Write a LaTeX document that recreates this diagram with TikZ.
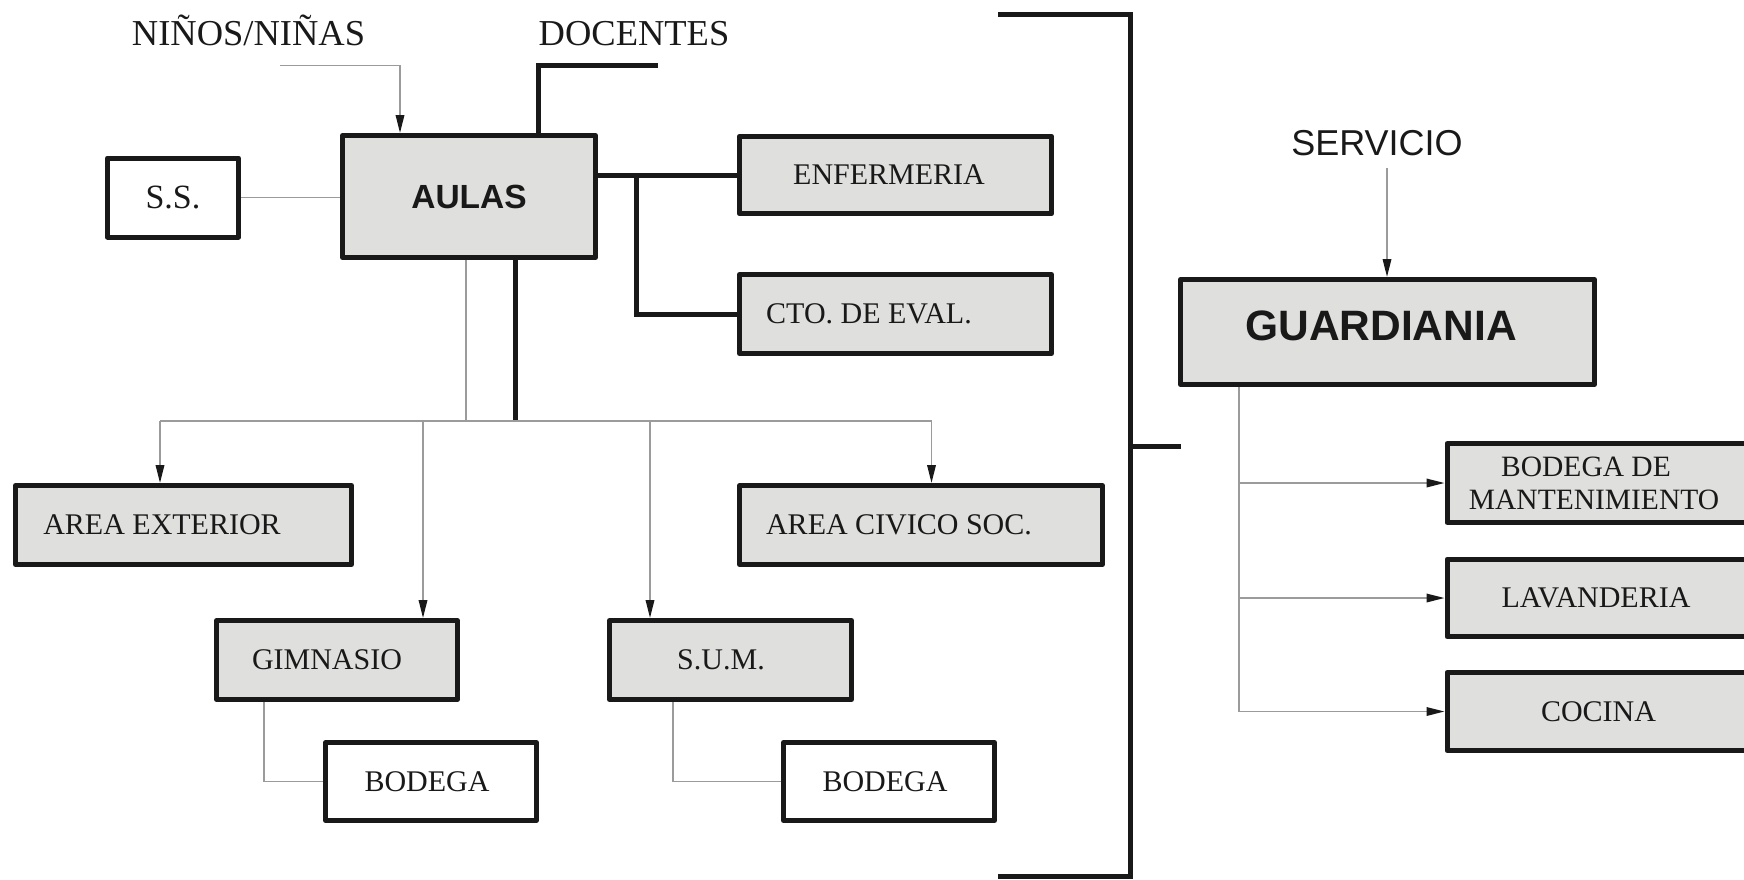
\documentclass[tikz,border=0pt]{standalone}
\usepackage{fontspec}
\setmainfont{Liberation Serif}
\setsansfont{Liberation Sans}
\usetikzlibrary{arrows.meta}
\definecolor{boxgray}{RGB}{223,223,221}
\definecolor{linegray}{RGB}{155,155,155}
\definecolor{ink}{RGB}{25,25,25}
\begin{document}
\begin{tikzpicture}[x=1pt,y=-1pt,
  box/.style={draw=ink, line width=5pt, line join=round, fill=boxgray, inner sep=0pt,
    text=ink, font=\fontsize{30}{33}\selectfont, align=center},
  wbox/.style={box, fill=white},
  lbl/.style={text=ink, inner sep=0pt, anchor=base},
  heavy/.style={draw=ink, line width=5pt},
  fine/.style={draw=linegray, line width=1.8pt},
  finearrow/.style={fine, -{Triangle[length=18pt,width=8.5pt,color=ink]}}]
\useasboundingbox (0,0) rectangle (1744,879);
\clip (0,0) rectangle (1744,879);

% boxes
\node[box, minimum width=253pt, minimum height=122pt,
  font=\sffamily\bfseries\fontsize{33.5}{36}\selectfont] (aulas) at (469,196.5) {AULAS};
\node[wbox, minimum width=131pt, minimum height=79pt,
  font=\fontsize{34}{36}\selectfont] (ss) at (173,197.5) {S.S.};
\node[box, minimum width=312pt, minimum height=77.5pt] (enf) at (895.5,175) {ENFERMERIA\hspace*{13pt}};
\node[box, minimum width=312pt, minimum height=79pt] (cto) at (895.5,314) {CTO. DE EVAL.\hspace*{53pt}};
\node[box, minimum width=336pt, minimum height=79pt] (ext) at (183.5,525) {AREA EXTERIOR\hspace*{43pt}};
\node[box, minimum width=362.5pt, minimum height=79pt] (civ) at (921,525) {AREA CIVICO SOC.\hspace*{44pt}};
\node[box, minimum width=240.5pt, minimum height=79pt] (gim) at (337,660) {GIMNASIO\hspace*{20pt}};
\node[box, minimum width=242pt, minimum height=79pt] (sum) at (730.5,660) {S.U.M.\hspace*{19pt}};
\node[wbox, minimum width=210.5pt, minimum height=78pt] (bod1) at (431,781.5) {BODEGA\hspace*{8pt}};
\node[wbox, minimum width=211pt, minimum height=78pt] (bod2) at (889,781.5) {BODEGA\hspace*{8pt}};
\node[box, minimum width=414pt, minimum height=105pt,
  font=\sffamily\bfseries\fontsize{42.5}{45}\selectfont] (guard) at (1387.5,332)
  {\raisebox{12pt}{GUARDIANIA}\hspace*{13pt}};
\node[box, minimum width=303pt, minimum height=78.5pt,
  font=\fontsize{29.5}{33}\selectfont] (mant) at (1598.5,483)
  {BODEGA DE\hspace*{25pt}\\MANTENIMIENTO\hspace*{9pt}};
\node[box, minimum width=303pt, minimum height=77.5pt] (lav) at (1598.5,598) {LAVANDERIA\hspace*{5pt}};
\node[box, minimum width=303pt, minimum height=78pt] (coc) at (1598.5,711.5) {COCINA};

% free labels
\node[lbl, font=\fontsize{36.5}{40}\selectfont] (ninos) at (248.5,45) {NIÑOS/NIÑAS};
\node[lbl, font=\fontsize{36.5}{40}\selectfont] (docentes) at (634,45) {DOCENTES};
\node[lbl, font=\sffamily\fontsize{36}{40}\selectfont] (servicio) at (1377,155) {SERVICIO};

% coordinates
\coordinate (ninA) at (280,65.5);
\coordinate (ninB) at (400,65.5);
\coordinate (docA) at (658,65.5);
\coordinate (docB) at (538,65.5);
\coordinate (brk) at (636,175);
\coordinate (hub) at (515.5,420.7);
\coordinate (thinx) at (466,420.7);
\coordinate (hL) at (160,420.7);
\coordinate (hG) at (423,420.7);
\coordinate (hS) at (650,420.7);
\coordinate (hR) at (931.5,420.7);
\coordinate (gb) at (264,780.7);
\coordinate (sb) at (673,780.7);
\coordinate (bt) at (998,14);
\coordinate (bb) at (998,876);
\coordinate (bx) at (1130,446.5);
\coordinate (btick) at (1181,446.5);
\coordinate (sv) at (1387,168);
\coordinate (gt) at (1239,711);

% connectors
\draw[finearrow] (ninA) -- (ninB) -- (ninB |- aulas.north);
\draw[heavy] (docA) -- (docB) -- (docB |- aulas.north);
\draw[fine] (ss.east) -- (ss.east -| aulas.west);
\draw[heavy] (aulas.east |- enf.west) -- (enf.west);
\draw[heavy] (brk) |- (cto.west);
\draw[heavy] (aulas.south -| hub) -- (hub);
\draw[fine] (aulas.south -| thinx) -- (thinx);
\draw[fine] (hL) -- (hR);
\draw[finearrow] (hL) -- (hL |- ext.north);
\draw[finearrow] (hG) -- (hG |- gim.north);
\draw[finearrow] (hS) -- (hS |- sum.north);
\draw[finearrow] (hR) -- (hR |- civ.north);
\draw[fine] (gim.south -| gb) |- (bod1.west);
\draw[fine] (sum.south -| sb) |- (bod2.west);
\draw[heavy] (bt) -- (bt -| bx) -- (bb -| bx) -- (bb);
\draw[heavy] (bx) -- (btick);
\draw[finearrow] (sv) -- (sv |- guard.north);
\draw[fine] (guard.south -| gt) -- (coc.west -| gt);
\draw[finearrow] (mant.west -| gt) -- (mant.west);
\draw[finearrow] (lav.west -| gt) -- (lav.west);
\draw[finearrow] (coc.west -| gt) -- (coc.west);
\end{tikzpicture}
\end{document}
